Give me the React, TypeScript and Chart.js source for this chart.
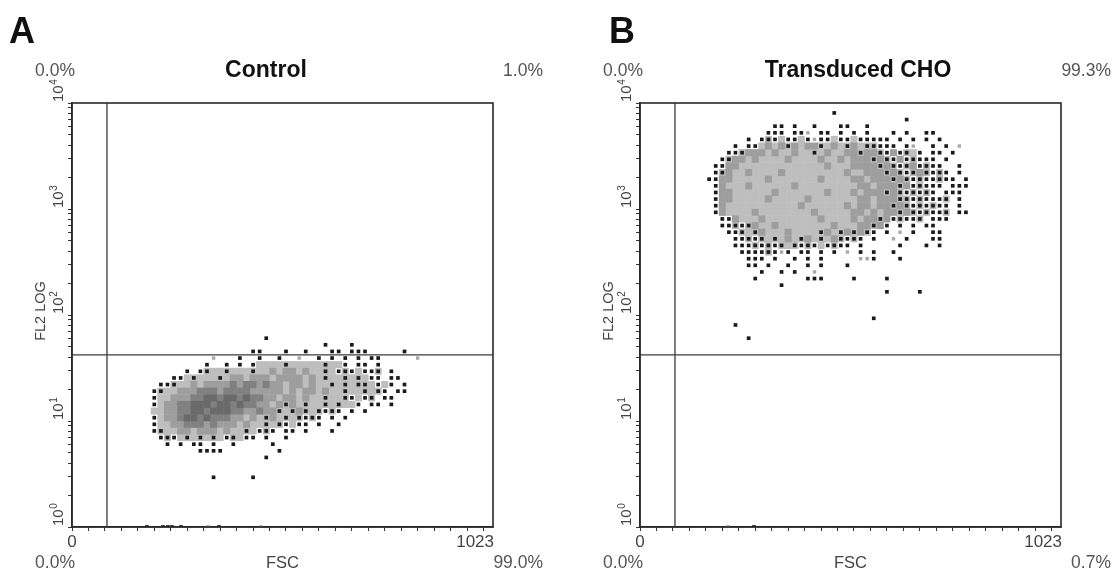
import { useEffect, useRef } from 'react';
import { Chart, registerables } from 'chart.js';

Chart.register(...registerables);

// ---------------- data ----------------
const FSC_MIN = 0;
const FSC_MAX = 1023;
const FSC_TICKS = [0, 40, 80, 120, 160, 200, 240, 280, 320, 360, 400, 440, 480, 520, 560, 600, 640, 680, 720, 760, 800, 840, 880, 920, 960, 1000];
const FSC_LABEL_VALUES = [0, 1023];
const FSC_LABELS = ['0', '1023'];

const FL2_MIN = 1;
const FL2_MAX = 10000;
const FL2_TICKS = [1, 2, 3, 4, 5, 6, 7, 8, 9, 10, 20, 30, 40, 50, 60, 70, 80, 90, 100, 200, 300, 400, 500, 600, 700, 800, 900, 1000, 2000, 3000, 4000, 5000, 6000, 7000, 8000, 9000, 10000];
const FL2_DECADES = [1, 10, 100, 1000, 10000];
const FL2_EXPONENTS = ['0', '1', '2', '3', '4'];

// density histogram: 64 x 64 bins (16 FSC channels per column, 16 rows per FL2 decade)
// ' ' empty, '.' single event, ',' faint event, '-' low, '+' low + event, '=' medium, '#' high, '%' highest
const FSC_PER_BIN = 16;
const BINS_PER_DECADE = 16;

const CONTROL_COL0 = 11;
const CONTROL_ROW0 = 28;
const CONTROL_DENSITY = [
  '                  .',
  '                           .   .',
  '                ..   .  .   .. ...     .',
  '          ,   .  .  .  ,  . . . . ..     ,',
  '         .  . . .----+-----+--. .. .',
  '      . .+--+---+--=-==-=--+-.+.-..+ .',
  '    ..-+---+-==-===-====-=-+--+-+-.. ..',
  '  ..+--=-====#=##=#==-==-=--+-+-++-.-. .',
  ' .+--===###=####=====-=-==-=--+--+-+. ..',
  ' .--===##%%#%%#%##==-==-=--+--+.-.+ ..',
  ' .-==##%%%#%%#%##==-=+=-+--+-+--. .. .',
  ' --==##%%#%%%##==#==+-+=+-+.+. . .',
  ' .-==#%%#%###==-=-+=-+-+.+. . .',
  ' .--==###=#===-=--+-+.-.. .  .',
  ' .+--==-===-=--+-.+. .. .   .',
  '  .+.-+-+-+-.+-.. .  .',
  '   . . .. .  .     .',
  '        ....        .',
  '                  .',
  '',
  '',
  '          .     .',
];
const CONTROL_AXIS_EVENTS = [182, 221, 233, 243, 265, 357];
const CONTROL_AXIS_EVENTS_FAINT = [330, 459];
const CONTROL_GATE_FSC = 85;
const CONTROL_GATE_FL2 = 42;
const CONTROL_QUADRANTS = ['0.0%', '1.0%', '0.0%', '99.0%'];

const CHO_COL0 = 10;
const CHO_ROW0 = 62;
const CHO_DENSITY = [
  '                   .',
  '                              .',
  '          .. .  .   ..  .',
  '         ... .., .. . . .   . .  ..',
  '      . .+.-..-.,..-..-..... . . . .',
  '    . ..-=-=+=-==+-=-+=-++... .,  . . ,',
  '   ..+===-=--=--+-=--==+==+.=.+-. .. .',
  '  .+==-=----=----=--=-===+=+.=.+... .',
  ' ..==-------------=---====+=+.+=.+..  .',
  ' .+=--=----=---------=--===+=+.+=+.+. .',
  '..==-----=-------=----==-===+=+.+..+.. .',
  ' .=---=------=---------==-===+=.+... ...',
  ' .==------=-------=---=-===+=+.+.+. ...',
  ' .==-----=-----=-------==-===++.+...+ .',
  ' .=-----------=------=-==-==+=+.+.+.. .',
  ' .=----=--------=-----==-=-==+=+.+..+ ..',
  '  ..=---=--------=----=-==+=.+..+ ...',
  '  ..+.+=--=--------=---==+=. . . ..',
  '   ..+-+=---=----+=-+=+=+. . , .  ..',
  '    ..+.+-+-=-+=-+-=+.+. .  , .   ..',
  '    ...+.+.+-+.+.-.+.. .     .   . .',
  '     ....+.,. .. . . , . .  .',
  '      ... .  . . .     ,,.   .',
  '      .. .  .  . .   .',
  '        .  . .  ,',
  '       .       ...    .    .',
  '           .',
  '                           .    .',
  '',
  '',
  '',
  '                         .',
  '    .',
  '',
  '      .',
];
const CHO_AXIS_EVENTS = [277];
const CHO_AXIS_EVENTS_FAINT = [214];
const CHO_GATE_FSC = 85;
const CHO_GATE_FL2 = 42;
const CHO_QUADRANTS = ['0.0%', '99.3%', '0.0%', '0.7%'];

// ---------------- styling ----------------
const FONT = '"Liberation Sans", Arial, Helvetica, sans-serif';
const H = 572;
const COLORS: Record<string, string> = {
  dot: '#1a1a1a',
  faint: '#a9a9a9',
  core: '#6a6a6a',
  dark: '#808080',
  mid: '#9e9e9e',
  light: '#bebebe',
};

type Pt = { x: number; y: number };

function buildLayers(grid: string[], col0: number, row0: number) {
  const L: Record<string, Pt[]> = { dot: [], faint: [], core: [], dark: [], mid: [], light: [] };
  grid.forEach((row, r) => {
    const y = Math.pow(10, (row0 - r + 0.5) / BINS_PER_DECADE);
    for (let c = 0; c < row.length; c++) {
      const ch = row[c];
      const p = { x: (col0 + c + 0.5) * FSC_PER_BIN, y };
      if (ch === '.') L.dot.push(p);
      else if (ch === ',') L.faint.push(p);
      else if (ch === '-') L.light.push(p);
      else if (ch === '+') { L.light.push(p); L.dot.push(p); }
      else if (ch === '=') L.mid.push(p);
      else if (ch === '#') L.dark.push(p);
      else if (ch === '%') L.core.push(p);
    }
  });
  return L;
}

type Panel = {
  letter: string; letterX: number; title: string; titleX: number;
  grid: string[]; col0: number; row0: number;
  axisEvents: number[]; axisFaint: number[];
  gateFsc: number; gateFl2: number; quadrants: string[];
};

const PANELS: { panel: Panel; left: number; width: number }[] = [
  {
    left: 0, width: 556,
    panel: {
      letter: 'A', letterX: 9, title: 'Control', titleX: 266,
      grid: CONTROL_DENSITY, col0: CONTROL_COL0, row0: CONTROL_ROW0,
      axisEvents: CONTROL_AXIS_EVENTS, axisFaint: CONTROL_AXIS_EVENTS_FAINT,
      gateFsc: CONTROL_GATE_FSC, gateFl2: CONTROL_GATE_FL2, quadrants: CONTROL_QUADRANTS,
    },
  },
  {
    left: 568, width: 545,
    panel: {
      letter: 'B', letterX: 41, title: 'Transduced CHO', titleX: 290,
      grid: CHO_DENSITY, col0: CHO_COL0, row0: CHO_ROW0,
      axisEvents: CHO_AXIS_EVENTS, axisFaint: CHO_AXIS_EVENTS_FAINT,
      gateFsc: CHO_GATE_FSC, gateFl2: CHO_GATE_FL2, quadrants: CHO_QUADRANTS,
    },
  },
];

function cellRadius(ctx: any) {
  const sx = ctx.chart.scales.x;
  if (!sx) return 4.9;
  const w = Math.abs(sx.getPixelForValue(FSC_PER_BIN) - sx.getPixelForValue(0));
  return (w + 0.5) / Math.SQRT2;
}

function makeConfig(panel: Panel, width: number): any {
  const L = buildLayers(panel.grid, panel.col0, panel.row0);
  const cellDs = (key: string) => ({
    label: key, data: L[key], showLine: false, pointStyle: 'rect',
    pointRadius: cellRadius, backgroundColor: COLORS[key], borderWidth: 0, pointBorderWidth: 0,
  });
  const dotDs = (key: string, data: Pt[], r: number, extra: any = {}) => ({
    label: key, data, showLine: false, pointStyle: 'rect', pointRadius: r,
    backgroundColor: COLORS[key], borderWidth: 0, pointBorderWidth: 0, ...extra,
  });

  const decor = {
    id: 'flowDecor',
    afterDatasetsDraw(chart: any) {
      const { ctx, chartArea: a, scales } = chart;
      const gx = scales.x.getPixelForValue(panel.gateFsc);
      const gy = scales.y.getPixelForValue(panel.gateFl2);
      ctx.save();
      ctx.strokeStyle = '#3c3c3c';
      ctx.lineWidth = 1.3;
      ctx.beginPath();
      ctx.moveTo(gx, a.top); ctx.lineTo(gx, a.bottom);
      ctx.moveTo(a.left, gy); ctx.lineTo(a.right, gy);
      ctx.stroke();
      ctx.strokeStyle = '#2a2a2a';
      ctx.lineWidth = 1.6;
      ctx.strokeRect(a.left, a.top, a.right - a.left, a.bottom - a.top);
      ctx.restore();
    },
    afterDraw(chart: any) {
      const { ctx, chartArea: a, scales } = chart;
      const sx = scales.x, sy = scales.y;
      ctx.save();
      ctx.textBaseline = 'alphabetic';
      ctx.fillStyle = '#111';
      ctx.font = `bold 36px ${FONT}`;
      ctx.textAlign = 'left';
      ctx.fillText(panel.letter, panel.letterX, 43);
      ctx.font = `bold 23px ${FONT}`;
      ctx.textAlign = 'center';
      ctx.fillText(panel.title, panel.titleX, 77);

      ctx.fillStyle = '#555';
      ctx.font = `17.5px ${FONT}`;
      ctx.textAlign = 'right';
      const q = panel.quadrants;
      ctx.fillText(q[0], a.left + 3, 76);
      ctx.fillText(q[1], a.right + 50, 76);
      ctx.fillText(q[2], a.left + 3, 568);
      ctx.fillText(q[3], a.right + 50, 568);

      ctx.fillStyle = '#444';
      ctx.font = `17px ${FONT}`;
      FSC_LABEL_VALUES.forEach((v, i) => {
        const px = sx.getPixelForValue(v);
        ctx.textAlign = i === 0 ? 'center' : 'right';
        ctx.fillText(FSC_LABELS[i], i === 0 ? px : px + 1, 547);
      });
      ctx.font = `16.5px ${FONT}`;
      ctx.textAlign = 'center';
      ctx.fillText('FSC', (a.left + a.right) / 2, 568);

      FL2_DECADES.forEach((v, i) => {
        const py = sy.getPixelForValue(v);
        ctx.save();
        ctx.translate(a.left - 9, py - 1);
        ctx.rotate(-Math.PI / 2);
        ctx.textAlign = 'left';
        ctx.font = `15px ${FONT}`;
        ctx.fillText('10', 0, 0);
        const w = ctx.measureText('10').width;
        ctx.font = `10px ${FONT}`;
        ctx.fillText(FL2_EXPONENTS[i], w + 0.5, -6);
        ctx.restore();
      });

      ctx.save();
      ctx.translate(a.left - 27, 311);
      ctx.rotate(-Math.PI / 2);
      ctx.textAlign = 'center';
      ctx.font = `14.5px ${FONT}`;
      ctx.fillText('FL2 LOG', 0, 0);
      ctx.restore();
      ctx.restore();
    },
  };

  const axisCommon = {
    ticks: { display: false },
    grid: { display: true, drawOnChartArea: false, drawTicks: true, tickLength: 4, color: '#333', lineWidth: 1 },
    border: { display: true, color: '#2a2a2a', width: 1.6 },
    title: { display: false },
  };

  return {
    type: 'scatter',
    data: {
      datasets: [
        dotDs('dot', L.dot, 2.6),
        dotDs('faint', L.faint, 2.4),
        cellDs('core'),
        cellDs('dark'),
        cellDs('mid'),
        cellDs('light'),
        dotDs('dot', panel.axisEvents.map((x) => ({ x, y: FL2_MIN })), 2.6, { clip: 0 }),
        dotDs('faint', panel.axisFaint.map((x) => ({ x, y: FL2_MIN })), 2.6, { clip: 0 }),
      ],
    },
    options: {
      responsive: false,
      animation: false,
      events: [],
      layout: { padding: { left: 68, right: width - 493, top: 103, bottom: H - 527 - 4 } },
      plugins: { legend: { display: false }, tooltip: { enabled: false }, title: { display: false } },
      scales: {
        x: {
          type: 'linear', position: 'bottom', min: FSC_MIN, max: FSC_MAX,
          afterBuildTicks: (s: any) => { s.ticks = FSC_TICKS.map((value) => ({ value })); },
          ...axisCommon,
        },
        y: {
          type: 'logarithmic', position: 'left', min: FL2_MIN, max: FL2_MAX,
          afterBuildTicks: (s: any) => { s.ticks = FL2_TICKS.map((value) => ({ value })); },
          ...axisCommon,
        },
      },
    },
    plugins: [decor],
  };
}

function FlowPanel({ panel, left, width }: { panel: Panel; left: number; width: number }) {
  const ref = useRef<HTMLCanvasElement | null>(null);
  useEffect(() => {
    if (!ref.current) return;
    const chart = new Chart(ref.current, makeConfig(panel, width));
    return () => chart.destroy();
  }, [panel, width]);
  return (
    <canvas
      ref={ref}
      width={width}
      height={H}
      style={{ position: 'absolute', left, top: 0, width, height: H }}
    />
  );
}

export default function App() {
  return (
    <div style={{ position: 'fixed', left: 0, top: 0, width: 1113, height: H, background: '#fff', overflow: 'hidden' }}>
      {PANELS.map((p) => (
        <FlowPanel key={p.panel.letter} panel={p.panel} left={p.left} width={p.width} />
      ))}
    </div>
  );
}
